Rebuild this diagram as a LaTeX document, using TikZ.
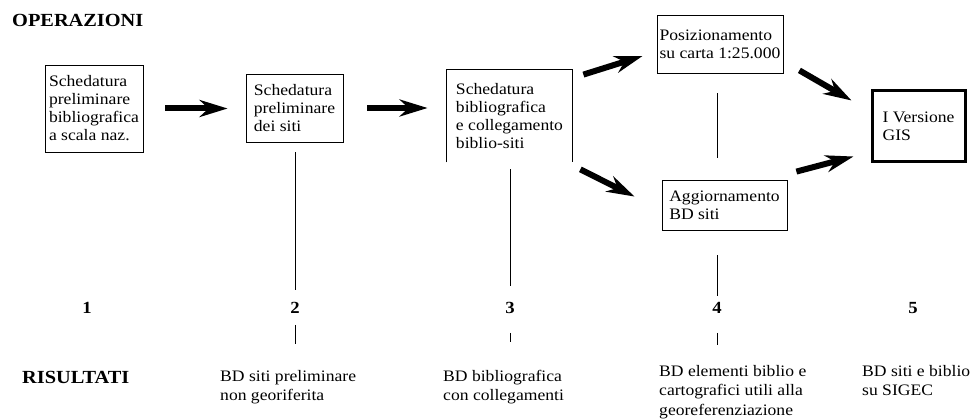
\documentclass[tikz,border=0pt]{standalone}
\usepackage{fontspec}
\setmainfont{Liberation Serif}[FakeStretch=1.1]
\usetikzlibrary{arrows.meta}

\tikzset{
  opbox/.style={draw, line width=0.8pt, align=left, inner sep=0pt,
    font=\fontsize{16}{18}\selectfont},
  bigarrow/.style={line width=6pt, -{Stealth[length=28pt,width=17pt,inset=9pt]}},
  numlabel/.style={inner sep=0pt, font=\fontsize{17}{20}\selectfont\bfseries},
  headlabel/.style={inner sep=0pt, anchor=west, font=\fontsize{18.5}{20}\selectfont\bfseries},
  reslabel/.style={inner sep=0pt, anchor=north west, align=left,
    font=\fontsize{16}{19.5}\selectfont},
  thinline/.style={line width=0.8pt}
}

\begin{document}
\begin{tikzpicture}[x=1pt, y=-1pt]
    \useasboundingbox (0,0) rectangle (970,419);

    \node[headlabel] (oper) at (12,20) {OPERAZIONI};

    % operations
    \node[opbox, minimum width=98pt, minimum height=87pt] (b1) at (94,108.5)
        {Schedatura\\preliminare\\bibliografica\\a scala naz.};
    \node[opbox, minimum width=97pt, minimum height=68pt] (b2) at (294.5,108)
        {Schedatura\\preliminare\\dei siti};
    \node[opbox, draw=none, minimum width=125pt, minimum height=92pt] (b3) at (509.5,116)
        {Schedatura\\bibliografica\\e collegamento\\biblio-siti};
    \draw[thinline] (b3.south west) -- (b3.north west) -- (b3.north east) -- (b3.south east);
    \node[opbox, minimum width=126pt, minimum height=58pt] (b4) at (720,44)
        {Posizionamento\\su carta 1:25.000};
    \node[opbox, minimum width=125pt, minimum height=50pt] (b5) at (724.5,205)
        {Aggiornamento\\BD siti};
    \node[opbox, line width=3pt, minimum width=93pt, minimum height=71pt] (b6) at (918.5,126.5)
        {I Versione\\GIS};

    % arrows
    \draw[bigarrow, shorten <=22pt, shorten >=18pt] (b1) -- (b1 -| b2.west);
    \draw[bigarrow, shorten <=24pt, shorten >=19pt] (b2) -- (b2 -| b3.west);
    \draw[bigarrow] ([shift={(11,5)}]b3.north east) -- ([shift={(-14,12)}]b4.west);
    \draw[bigarrow] ([shift={(8,7)}]b3.south east) -- ([shift={(-27,17)}]b5.north west);
    \draw[bigarrow] ([shift={(16,-3)}]b4.south east) -- ([shift={(-19,11)}]b6.north west);
    \draw[bigarrow] ([shift={(9,-8)}]b5.north east) -- ([shift={(-17,-7)}]b6.south west);

    % phases
    \node[numlabel] (n1) at (87,308) {1};
    \node[numlabel] (n2) at (295,308) {2};
    \node[numlabel] (n3) at (510,308) {3};
    \node[numlabel] (n4) at (717,308) {4};
    \node[numlabel] (n5) at (913,308) {5};

    \draw[thinline, shorten <=10pt, shorten >=12pt] (b2.south -| n2) -- (n2.north);
    \draw[thinline, shorten <=7pt, shorten >=16pt] (b3.south -| n3) -- (n3.north);
    \draw[thinline, shorten <=20pt, shorten >=22pt] (b4.south -| n4) -- (b5.north -| n4);
    \draw[thinline, shorten <=25pt, shorten >=6pt] (b5.south -| n4) -- (n4.north);
    \draw[thinline] (n2.south) ++(0,11) -- ++(0,19);
    \draw[thinline] (n3.south) ++(0,19) -- ++(0,9);
    \draw[thinline] (n4.south) ++(0,19) -- ++(0,12);

    % results
    \node[headlabel] (ris) at (22,377) {RISULTATI};
    \node[reslabel] (r2) at (220,370) {BD siti preliminare\\non georiferita};
    \node[reslabel] (r3) at (443,370) {BD bibliografica\\con collegamenti};
    \node[reslabel] (r4) at (659,365) {BD elementi biblio e\\cartografici utili alla\\georeferenziazione};
    \node[reslabel] (r5) at (862,365) {BD siti e biblio\\su SIGEC};
\end{tikzpicture}
\end{document}
